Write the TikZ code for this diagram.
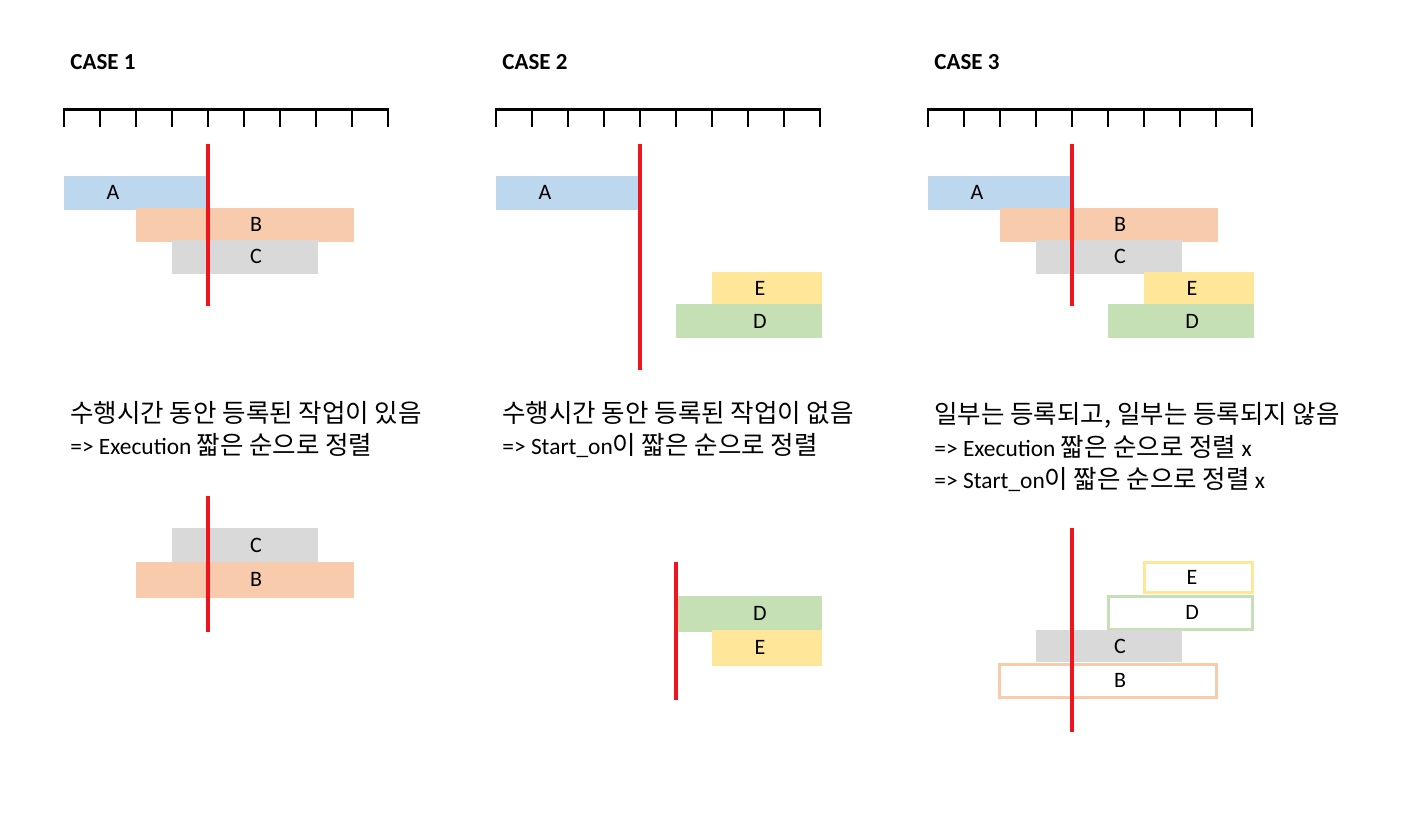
\documentclass[tikz,border=0pt]{standalone}
\usepackage{fontspec}
\setmainfont{Carlito}
\newfontfamily\kr{Noto Sans CJK KR}[Scale=1.09]
\usepackage{tikz}
\usetikzlibrary{positioning,fit}

\definecolor{jobA}{HTML}{BDD7EE}
\definecolor{jobB}{HTML}{F8CBAD}
\definecolor{jobC}{HTML}{D9D9D9}
\definecolor{jobD}{HTML}{C5E0B4}
\definecolor{jobE}{HTML}{FFE699}
\definecolor{cutred}{HTML}{F0141E}

\tikzset{
  jobbar/.style={inner sep=0pt, outer sep=0pt, draw=none},
  jobline/.style={jobbar, draw=#1, fill=white, line width=1.5pt},
  joblabel/.style={inner sep=0pt, font=\fontsize{11pt}{13pt}\selectfont},
  cutline/.style={draw=cutred, line width=2pt},
  ruler/.style={line width=1.3pt, line join=miter},
  casetitle/.style={inner sep=0pt, anchor=base west, font=\fontsize{11.5pt}{13pt}\selectfont\bfseries},
  note/.style={inner sep=0pt, anchor=base west, font=\fontsize{11.7pt}{14pt}\selectfont},
}

% #1 name, #2 style, #3/#4 top left, #5/#6 bottom right, #7 label x, #8 letter
\newcommand{\job}[8]{%
  \node[#2, fit={(#3,#4) (#5,#6)}] (#1) {};
  \node[joblabel] (#1-txt) at (#7,{(#4+#6)/2}) {#8};
}

\begin{document}
\begin{tikzpicture}[x=0.5pt, y=-0.5pt]
\useasboundingbox (0,0) rectangle (1416,816);

% time rulers
\foreach \ox in {64,496,928} {
  \draw[ruler] (\ox,127) -- (\ox,109.5) -- (\ox+324,109.5) -- (\ox+324,127);
  \foreach \i in {1,...,8}
    \draw[ruler] (\ox+36*\i,109.5) -- ++(0,17.5);
}

\node[casetitle] (case1) at (70,69) {CASE 1};
\node[casetitle] (case2) at (502,69) {CASE 2};
\node[casetitle] (case3) at (934,69) {CASE 3};

% CASE 1
\job{c1A}{jobbar, fill=jobA}{64}{176}{207}{209.5}{113}{A}
\job{c1B}{jobbar, fill=jobB}{136}{208}{354}{241.7}{256}{B}
\job{c1C}{jobbar, fill=jobC}{172}{240}{318}{273.5}{256}{C}
\coordinate (cut1t) at (207.5,144);
\coordinate (cut1b) at (207.5,306);
\draw[cutline] (cut1t) -- (cut1b);

\node[note] (note1a) at (70,422) {\kr 수행시간 동안 등록된 작업이 있음};
\node[note] (note1b) at (70,454) {=> Execution {\kr 짧은 순으로 정렬}};

\job{r1C}{jobbar, fill=jobC}{172}{528}{318}{562}{256}{C}
\job{r1B}{jobbar, fill=jobB}{136}{562}{354}{597.7}{256}{B}
\coordinate (res1t) at (207.5,496);
\coordinate (res1b) at (207.5,631.7);
\draw[cutline] (res1t) -- (res1b);

% CASE 2
\job{c2A}{jobbar, fill=jobA}{496}{176}{638}{209.5}{545}{A}
\job{c2E}{jobbar, fill=jobE}{712}{272}{822}{304.5}{760}{E}
\job{c2D}{jobbar, fill=jobD}{676}{304}{822}{338}{760}{D}
\coordinate (cut2t) at (640,144);
\coordinate (cut2b) at (640,369.5);
\draw[cutline] (cut2t) -- (cut2b);

\node[note] (note2a) at (502,422) {\kr 수행시간 동안 등록된 작업이 없음};
\node[note] (note2b) at (502,454) {=> Start\_on{\kr 이 짧은 순으로 정렬}};

\job{r2D}{jobbar, fill=jobD}{677}{596}{822}{631.7}{760}{D}
\job{r2E}{jobbar, fill=jobE}{712}{630}{822}{665.7}{760}{E}
\coordinate (res2t) at (676,562);
\coordinate (res2b) at (676,700);
\draw[cutline] (res2t) -- (res2b);

% CASE 3
\job{c3A}{jobbar, fill=jobA}{928}{176}{1070}{209.5}{977}{A}
\job{c3B}{jobbar, fill=jobB}{1000}{208}{1218}{241.7}{1120}{B}
\job{c3C}{jobbar, fill=jobC}{1036}{240}{1182}{273.7}{1120}{C}
\job{c3E}{jobbar, fill=jobE}{1144}{272}{1254}{304.5}{1192}{E}
\job{c3D}{jobbar, fill=jobD}{1108}{304}{1254}{338}{1192}{D}
\coordinate (cut3t) at (1072,144);
\coordinate (cut3b) at (1072,306);
\draw[cutline] (cut3t) -- (cut3b);

\node[note] (note3a) at (934,423) {\kr 일부는 등록되고, 일부는 등록되지 않음};
\node[note] (note3b) at (934,456) {=> Execution {\kr 짧은 순으로 정렬} x};
\node[note] (note3c) at (934,488) {=> Start\_on{\kr 이 짧은 순으로 정렬} x};

\job{r3E}{jobline=jobE}{1144}{562}{1252}{592.5}{1192}{E}
\job{r3D}{jobline=jobD}{1108}{596.5}{1252}{629}{1192}{D}
\job{r3C}{jobbar, fill=jobC}{1036}{630}{1182}{662}{1120}{C}
\job{r3B}{jobline=jobB}{999.5}{664}{1216}{697.8}{1120}{B}
\coordinate (res3t) at (1072,528);
\coordinate (res3b) at (1072,731.7);
\draw[cutline] (res3t) -- (res3b);
\end{tikzpicture}
\end{document}
